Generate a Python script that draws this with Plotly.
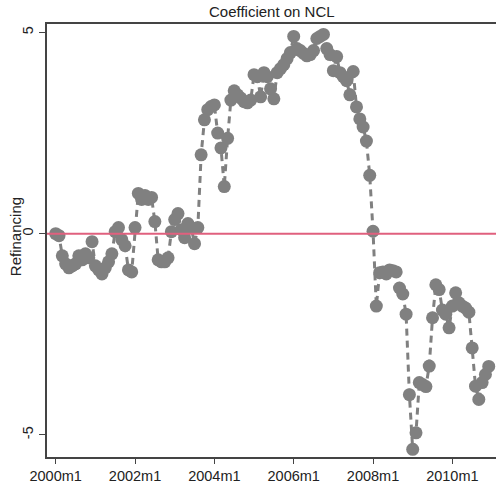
import plotly.graph_objects as go

# month index 0 = 2000m1 ... 131 = 2010m12
months = list(range(132))
coef = [
    0.0, -0.05, -0.55, -0.75, -0.85, -0.8, -0.75, -0.55, -0.65, -0.5,
    -0.6, -0.2, -0.8, -0.9, -1.0, -0.85, -0.7, -0.5, 0.05, 0.15,
    -0.15, -0.3, -0.9, -0.95, 0.15, 1.0, 0.85, 0.95, 0.85, 0.9,
    0.3, -0.65, -0.7, -0.7, -0.6, 0.05, 0.35, 0.5, 0.1, -0.1,
    0.25, 0.15, -0.25, 0.15, 1.96, 2.83, 3.08, 3.16, 3.2, 2.5,
    2.13, 1.17, 2.37, 3.32, 3.55, 3.45, 3.37, 3.28, 3.25, 3.32,
    3.95, 3.9, 3.4, 4.0, 3.9, 3.6, 3.35, 4.0, 4.1, 4.2,
    4.35, 4.5, 4.9, 4.6, 4.55, 4.48, 4.42, 4.45, 4.55, 4.85,
    4.9, 4.95, 4.6, 4.45, 4.05, 4.4, 4.0, 3.9, 3.8, 3.45,
    4.03, 3.15, 2.85, 2.65, 2.3, 1.45, 0.06, -1.8, -0.97, -0.95,
    -1.0, -0.9, -0.92, -0.95, -1.35, -1.5, -2.0, -4.0, -5.36, -4.95,
    -3.7, -3.75, -3.8, -3.29, -2.09, -1.27, -1.39, -1.9, -2.0, -2.34,
    -1.8, -1.47, -1.72, -1.8, -1.85, -1.95, -2.84, -3.79, -4.12, -3.7,
    -3.5, -3.3,
]
x_tickvals = [0, 24, 48, 72, 96, 120]
x_ticktext = ["2000m1", "2002m1", "2004m1", "2006m1", "2008m1", "2010m1"]
y_tickvals = [-5, 0, 5]
y_ticktext = ["-5", "0", "5"]

gray = "#808080"
fig = go.Figure()
fig.add_trace(go.Scatter(
    x=months, y=coef, mode="lines+markers",
    line=dict(color=gray, width=3, dash="7px,5px"),
    marker=dict(color=gray, size=13),
    showlegend=False, cliponaxis=False,
))
fig.add_hline(y=0, line=dict(color="#E0607E", width=2))

font = "Liberation Sans, Arial, sans-serif"
fig.update_layout(
    width=496, height=483,
    margin=dict(l=47, r=0, t=24, b=26),
    paper_bgcolor="white", plot_bgcolor="white",
    font=dict(family=font, size=14, color="#222"),
    xaxis=dict(
        range=[-2.63, 133.2], tickvals=x_tickvals, ticktext=x_ticktext,
        showgrid=False, zeroline=False, showline=True, linecolor="#444",
        linewidth=1.5, mirror=True, ticks="outside", ticklen=5,
        tickcolor="#444", tickfont=dict(size=14.5, color="#222"),
    ),
    yaxis=dict(
        range=[-5.55, 5.21], tickvals=y_tickvals, ticktext=y_ticktext,
        showgrid=False, zeroline=False, showline=True, linecolor="#444",
        linewidth=1.5, ticks="outside", ticklen=6, tickcolor="#444",
        tickangle=-90, tickfont=dict(size=14.5, color="#222"),
    ),
    annotations=[
        dict(
            text="Coefficient on NCL", xref="paper", yref="paper", x=0.5, y=1,
            yanchor="bottom", yshift=2, showarrow=False,
            font=dict(family=font, size=15, color="#222"),
        ),
        dict(
            text="Refinancing", xref="paper", yref="paper", x=-0.0713, y=0.51,
            xanchor="center", yanchor="middle", textangle=-90, showarrow=False,
            font=dict(family=font, size=15, color="#222"),
        ),
    ],
)
fig.write_html("out.html")
